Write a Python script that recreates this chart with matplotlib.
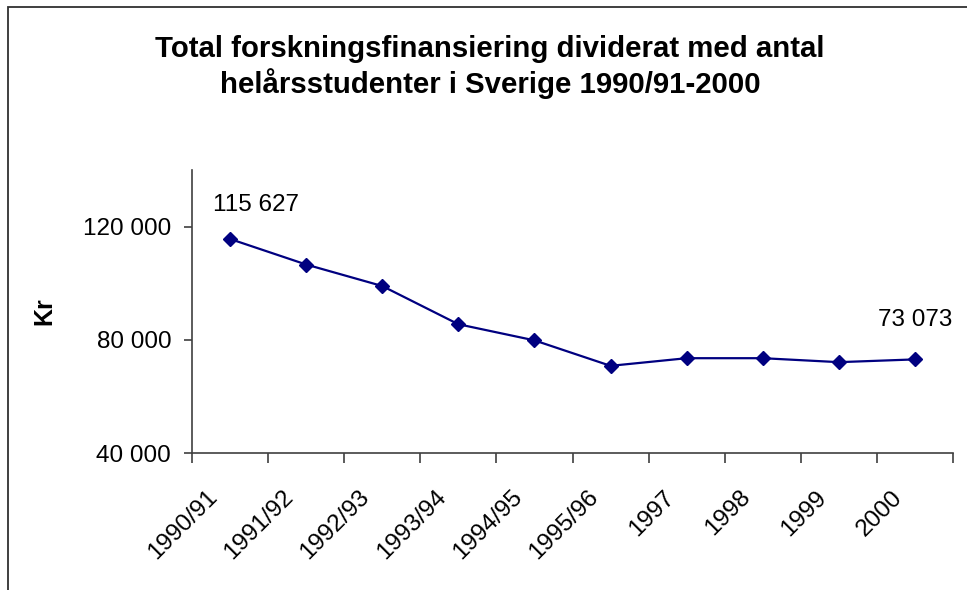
import matplotlib
matplotlib.use("Agg")
import matplotlib.pyplot as plt
from matplotlib.patches import Rectangle
from matplotlib.ticker import FuncFormatter, FixedLocator, NullFormatter

categories = ["1990/91", "1991/92", "1992/93", "1993/94", "1994/95",
              "1995/96", "1997", "1998", "1999", "2000"]
values = [115627, 106600, 99000, 85500, 79800, 70800, 73500, 73500, 72100, 73073]
title_lines = ["Total forskningsfinansiering dividerat med antal",
               "helårsstudenter i Sverige 1990/91-2000"]
ylabel = "Kr"

plt.rcParams['font.family'] = ['Liberation Sans', 'DejaVu Sans']

W, H = 967, 590
fig = plt.figure(figsize=(W / 100, H / 100), dpi=100)
ax = fig.add_axes([192 / W, 1 - 453 / H, (953 - 192) / W, (453 - 170) / H])

x = list(range(len(categories)))
ax.plot(x, values, color="#000080", lw=1.6, marker="D", markersize=7.3,
        markerfacecolor="#000080", markeredgecolor="#000080", zorder=3)

ax.set_xlim(-0.5, len(categories) - 0.5)
ax.set_ylim(40000, 140000)
ax.set_yticks([40000, 80000, 120000])
fmt = lambda v: f"{int(round(v)):,}".replace(",", " ")
ax.yaxis.set_major_formatter(FuncFormatter(lambda v, p: fmt(v)))

# category ticks at boundaries
ax.xaxis.set_major_locator(FixedLocator([i - 0.5 for i in range(len(categories) + 1)]))
ax.xaxis.set_major_formatter(NullFormatter())
ax.tick_params(axis="x", which="major", length=7, width=1.2, color="#404040", direction="out")
ax.tick_params(axis="y", length=6, width=1.2, color="#404040", labelsize=17.5, pad=9)

# category labels at centers, rotated
for i, c in enumerate(categories):
    ax.annotate(c, xy=(i, 0), xycoords=("data", "axes fraction"), xytext=(-17, -24),
                textcoords="offset points", rotation=45, ha="right", va="top",
                rotation_mode="anchor", fontsize=17.5, annotation_clip=False)

for s in ["top", "right"]:
    ax.spines[s].set_visible(False)
for s in ["left", "bottom"]:
    ax.spines[s].set_color("#404040")
    ax.spines[s].set_linewidth(1.2)

ax.set_ylabel(ylabel, fontsize=18, fontweight="bold", labelpad=19)

# data labels
ax.annotate(fmt(values[0]), (x[0], values[0]), xytext=(19, 20),
            textcoords="offset points", ha="center", va="baseline", fontsize=17.5)
ax.annotate(fmt(values[-1]), (x[-1], values[-1]), xytext=(0, 24),
            textcoords="offset points", ha="center", va="baseline", fontsize=17.5)

fig.text(490 / W, 1 - 57 / H, title_lines[0], ha="center", va="baseline",
         fontsize=21.2, fontweight="bold")
fig.text(490 / W, 1 - 93 / H, title_lines[1], ha="center", va="baseline",
         fontsize=21.2, fontweight="bold")

# chart frame (only top and left visible)
fig.add_artist(Rectangle((8 / W, -0.1), 1.1, 1 - 7 / H + 0.1, transform=fig.transFigure,
                         fill=False, edgecolor="#303030", lw=1.3))

fig.savefig("out.png", dpi=100, facecolor="white")
